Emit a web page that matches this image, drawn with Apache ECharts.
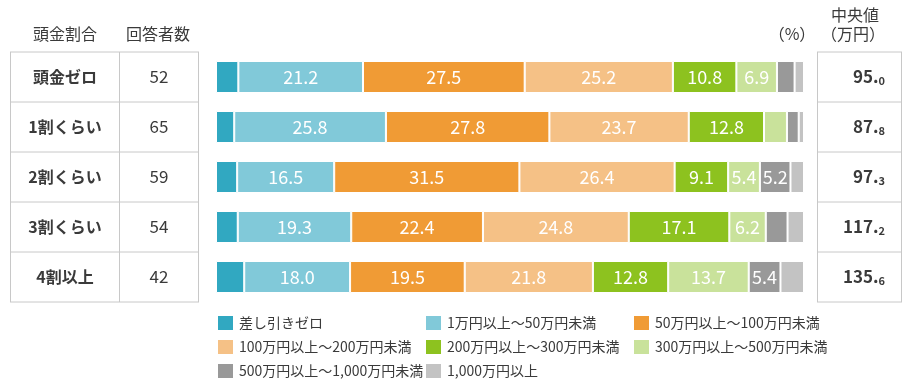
<!DOCTYPE html>
<html><head><meta charset="utf-8">
<script src="https://cdn.jsdelivr.net/npm/echarts@6/dist/echarts.min.js"></script>
<style>html,body{margin:0;padding:0;background:#fff}#c{width:911px;height:381px}</style>
</head><body><div id="c"></div>
<script>
const categories = ['頭金ゼロ', '1割くらい', '2割くらい', '3割くらい', '4割以上'];
const respondents = [52, 65, 59, 54, 42];
const medians = ['95.0', '87.8', '97.3', '117.2', '135.6'];
const seriesNames = ['差し引きゼロ', '1万円以上～50万円未満', '50万円以上～100万円未満', '100万円以上～200万円未満', '200万円以上～300万円未満', '300万円以上～500万円未満', '500万円以上～1,000万円未満', '1,000万円以上'];
const zeroDiff = [3.8, 3.1, 3.6, 3.7, 4.8];
const v1to50 = [21.2, 25.8, 16.5, 19.3, 18.0];
const v50to100 = [27.5, 27.8, 31.5, 22.4, 19.5];
const v100to200 = [25.2, 23.7, 26.4, 24.8, 21.8];
const v200to300 = [10.8, 12.8, 9.1, 17.1, 12.8];
const v300to500 = [6.9, 3.9, 5.4, 6.2, 13.7];
const v500to1000 = [3.0, 2.0, 5.2, 3.7, 5.4];
const v1000plus = [1.6, 0.9, 2.3, 2.8, 4.0];
const seriesValues = [zeroDiff, v1to50, v50to100, v100to200, v200to300, v300to500, v500to1000, v1000plus];
const colors = ['#31a8c1', '#81c9d9', '#f09b35', '#f5c186', '#8dc21f', '#c9e29b', '#999999', '#c3c3c3'];

const FONT = '"Noto Sans CJK JP", "Noto Sans", sans-serif';
const TXT = '#3a3a3a';
const LINE = '#c8c8c8';

const series = seriesNames.map((name, i) => ({
  name, type: 'bar', stack: 'total', barWidth: 32,
  itemStyle: { color: colors[i], borderColor: '#fff', borderWidth: 1 },
  label: {
    show: true, position: 'inside', color: '#fff', fontSize: 18, fontFamily: FONT,
    formatter: p => p.value >= 5 ? p.value.toFixed(1) : ''
  },
  data: seriesValues[i]
}));

const graphics = [];
const rowsY = [52, 102, 152, 202, 252, 302];
rowsY.forEach(y => {
  graphics.push({ type: 'line', shape: { x1: 10, y1: y, x2: 199, y2: y }, style: { stroke: LINE, lineWidth: 1 } });
  graphics.push({ type: 'line', shape: { x1: 817, y1: y, x2: 902, y2: y }, style: { stroke: LINE, lineWidth: 1 } });
});
[10.5, 119.5, 198.5].forEach(x => graphics.push({ type: 'line', shape: { x1: x, y1: 52, x2: x, y2: 302 }, style: { stroke: LINE, lineWidth: 1 } }));
[817.5, 901.5].forEach(x => graphics.push({ type: 'line', shape: { x1: x, y1: 52, x2: x, y2: 302 }, style: { stroke: LINE, lineWidth: 1 } }));
const hdr = (text, x, y) => ({ type: 'text', x, y, style: { text, fill: TXT, font: '16px ' + FONT, textAlign: 'center', textVerticalAlign: 'middle' } });
graphics.push(hdr('頭金割合', 65, 34));
graphics.push(hdr('回答者数', 158, 34));
graphics.push(hdr('（%）', 792, 34));
graphics.push(hdr('中央値', 855, 15));
graphics.push(hdr('（万円）', 853, 34));

const legendRows = [[0, 1, 2], [3, 4, 5], [6, 7]];
const legendTops = [314, 338, 362];

const option = {
  animation: false,
  textStyle: { fontFamily: FONT },
  grid: { left: 216, right: 107, top: 52, bottom: 79, containLabel: false, outerBoundsMode: 'none' },
  xAxis: { type: 'value', min: 0, max: 100, show: false },
  yAxis: [
    { type: 'category', inverse: true, data: categories, position: 'left',
      axisLine: { show: false }, axisTick: { show: false },
      axisLabel: { interval: 0, margin: 151, align: 'center', fontSize: 16, fontWeight: 'bold', color: TXT, fontFamily: FONT } },
    { type: 'category', inverse: true, data: respondents.map(String), position: 'left',
      axisLine: { show: false }, axisTick: { show: false },
      axisLabel: { interval: 0, margin: 57, align: 'center', fontSize: 17, color: TXT, fontFamily: FONT } },
    { type: 'category', inverse: true, data: medians, position: 'right',
      axisLine: { show: false }, axisTick: { show: false },
      axisLabel: { interval: 0, margin: 81, align: 'right', color: TXT, fontFamily: FONT,
        formatter: v => { const k = v.indexOf('.'); return '{a|' + v.slice(0, k + 1) + '}{b|' + v.slice(k + 1) + '}'; },
        rich: {
          a: { fontSize: 17, fontWeight: 'bold', color: TXT, fontFamily: FONT, lineHeight: 20 },
          b: { fontSize: 11, fontWeight: 'bold', color: TXT, fontFamily: FONT, lineHeight: 12, verticalAlign: 'bottom', padding: [0, 0, 1, 0] }
        } } }
  ],
  legend: legendRows.map((idx, r) => ({
    data: idx.map(i => seriesNames[i]), left: 216, top: legendTops[r],
    orient: 'horizontal', padding: 0, itemGap: 0, itemWidth: 17, itemHeight: 16, icon: 'rect',
    selectedMode: false,
    textStyle: { fontSize: 14, color: TXT, fontFamily: FONT, width: 185, overflow: 'none', lineHeight: 16 }
  })),
  graphic: graphics,
  series
};
echarts.init(document.getElementById('c')).setOption(option);
</script></body></html>
